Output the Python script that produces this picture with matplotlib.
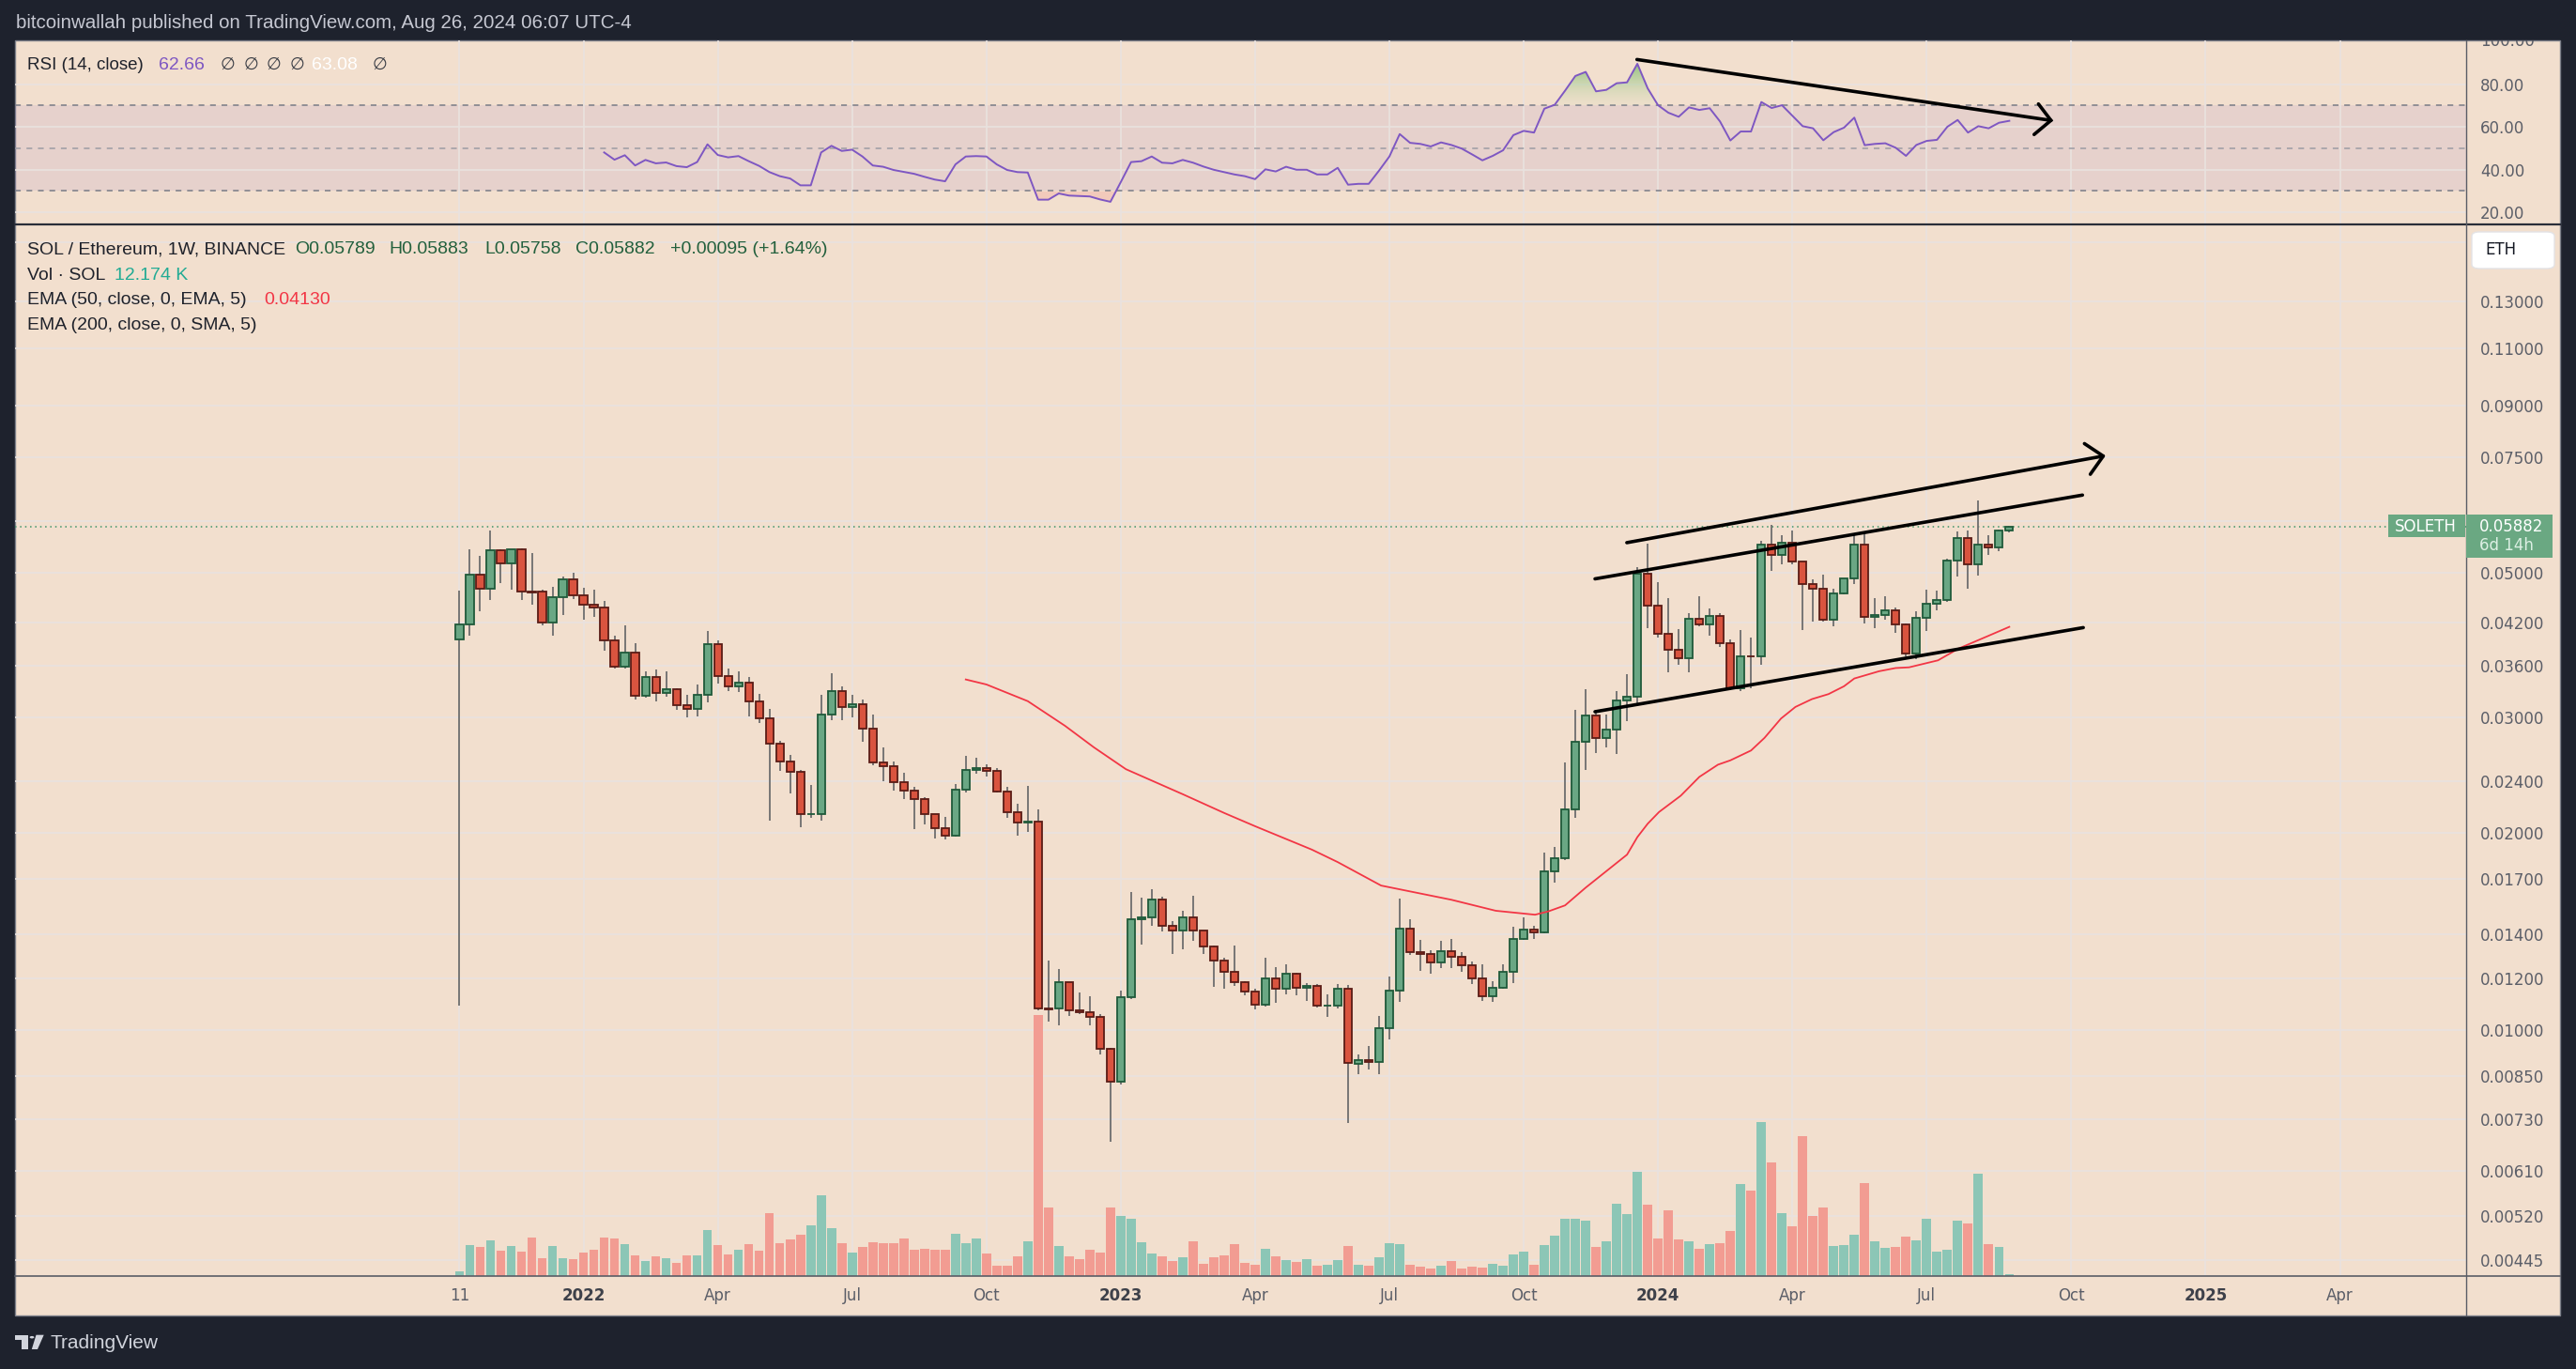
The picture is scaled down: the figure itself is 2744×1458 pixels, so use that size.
import numpy as np
import pandas as pd
import matplotlib
matplotlib.use('Agg')
import matplotlib.pyplot as plt
from matplotlib.patches import Rectangle, FancyBboxPatch, Polygon, Circle
from matplotlib.lines import Line2D
from matplotlib.colors import LinearSegmentedColormap
from matplotlib.path import Path
from matplotlib.ticker import NullLocator

# ---- data (SOL/ETH weekly, Binance) ----
start = pd.Timestamp('2021-10-11')   # first weekly bar

opens = [0.03948, 0.04162, 0.04958, 0.04718, 0.05401, 0.05159, 0.05419, 0.04672, 0.04680, 0.04190,
         0.04589, 0.04876, 0.04611, 0.04461, 0.04416, 0.03935, 0.03587, 0.03769, 0.03238, 0.03459,
         0.03269, 0.03314, 0.03132, 0.03092, 0.03249, 0.03883, 0.03470, 0.03347, 0.03390, 0.03174,
         0.02991, 0.02736, 0.02570, 0.02478, 0.02135, 0.02135, 0.03031, 0.03291, 0.03112, 0.03143,
         0.02884, 0.02561, 0.02528, 0.02390, 0.02319, 0.02251, 0.02135, 0.02032, 0.01980, 0.02327,
         0.02495, 0.02511, 0.02486, 0.02312, 0.02150, 0.02073, 0.02080, 0.01077, 0.01077, 0.01182,
         0.01070, 0.01063, 0.01047, 0.00935, 0.00834, 0.01121, 0.01475, 0.01485, 0.01581, 0.01441,
         0.01418, 0.01485, 0.01418, 0.01340, 0.01276, 0.01226, 0.01182, 0.01144, 0.01092, 0.01198,
         0.01155, 0.01218, 0.01159, 0.01167, 0.01088, 0.01090, 0.01155, 0.00888, 0.00899, 0.00893,
         0.01005, 0.01148, 0.01427, 0.01314, 0.01305, 0.01267, 0.01319, 0.01293, 0.01255, 0.01198,
         0.01125, 0.01159, 0.01226, 0.01376, 0.01422, 0.01409, 0.01746, 0.01828, 0.02171, 0.02752,
         0.03028, 0.02793, 0.02875, 0.03186, 0.03225, 0.04978, 0.04450, 0.04025, 0.03806, 0.03703,
         0.04247, 0.04166, 0.04288, 0.03897, 0.03323, 0.03728, 0.03726, 0.05523, 0.05316, 0.05545,
         0.05193, 0.04797, 0.04718, 0.04236, 0.04642, 0.04890, 0.05523, 0.04271, 0.04312, 0.04371,
         0.04172, 0.03760, 0.04258, 0.04486, 0.04546, 0.05208, 0.05653, 0.05139, 0.05523, 0.05455,
         0.05789]
closes = [0.04162, 0.04958, 0.04718, 0.05401, 0.05159, 0.05419, 0.04672, 0.04667, 0.04190, 0.04589,
          0.04876, 0.04611, 0.04461, 0.04416, 0.03935, 0.03587, 0.03769, 0.03238, 0.03459, 0.03269,
          0.03314, 0.03132, 0.03092, 0.03249, 0.03883, 0.03470, 0.03347, 0.03390, 0.03174, 0.02991,
          0.02736, 0.02570, 0.02478, 0.02135, 0.02140, 0.03031, 0.03291, 0.03112, 0.03143, 0.02884,
          0.02561, 0.02528, 0.02390, 0.02319, 0.02251, 0.02135, 0.02032, 0.01980, 0.02327, 0.02495,
          0.02511, 0.02486, 0.02312, 0.02150, 0.02073, 0.02080, 0.01077, 0.01076, 0.01182, 0.01070,
          0.01063, 0.01047, 0.00935, 0.00834, 0.01121, 0.01475, 0.01485, 0.01581, 0.01441, 0.01418,
          0.01485, 0.01418, 0.01340, 0.01276, 0.01226, 0.01182, 0.01144, 0.01092, 0.01198, 0.01155,
          0.01218, 0.01159, 0.01167, 0.01088, 0.01090, 0.01155, 0.00891, 0.00899, 0.00893, 0.01005,
          0.01148, 0.01427, 0.01314, 0.01305, 0.01267, 0.01319, 0.01293, 0.01255, 0.01198, 0.01125,
          0.01159, 0.01226, 0.01376, 0.01422, 0.01409, 0.01746, 0.01828, 0.02171, 0.02752, 0.03028,
          0.02793, 0.02875, 0.03186, 0.03225, 0.04978, 0.04450, 0.04025, 0.03806, 0.03703, 0.04247,
          0.04166, 0.04288, 0.03897, 0.03323, 0.03728, 0.03726, 0.05523, 0.05316, 0.05545, 0.05193,
          0.04797, 0.04718, 0.04236, 0.04642, 0.04890, 0.05523, 0.04271, 0.04312, 0.04371, 0.04172,
          0.03760, 0.04258, 0.04486, 0.04546, 0.05208, 0.05653, 0.05139, 0.05523, 0.05455, 0.05789,
          0.05882]
highs = [0.04686, 0.05425, 0.05302, 0.05796, 0.05425, 0.05430, 0.05449, 0.05352, 0.04700, 0.04749,
         0.04930, 0.04991, 0.04738, 0.04706, 0.04525, 0.04003, 0.04152, 0.03900, 0.03532, 0.03555,
         0.03532, 0.03324, 0.03252, 0.03372, 0.04071, 0.03939, 0.03567, 0.03532, 0.03463, 0.03263,
         0.03094, 0.02766, 0.02632, 0.02494, 0.02368, 0.03252, 0.03509, 0.03350, 0.03252, 0.03198,
         0.03034, 0.02702, 0.02573, 0.02472, 0.02352, 0.02266, 0.02138, 0.02115, 0.02373, 0.02623,
         0.02606, 0.02544, 0.02511, 0.02350, 0.02214, 0.02362, 0.02174, 0.01276, 0.01240, 0.01185,
         0.01141, 0.01126, 0.01058, 0.00938, 0.01149, 0.01625, 0.01593, 0.01641, 0.01598, 0.01466,
         0.01521, 0.01604, 0.01420, 0.01346, 0.01289, 0.01346, 0.01188, 0.01155, 0.01289, 0.01247,
         0.01259, 0.01222, 0.01178, 0.01174, 0.01134, 0.01174, 0.01171, 0.00917, 0.00945, 0.01050,
         0.01206, 0.01586, 0.01475, 0.01373, 0.01323, 0.01367, 0.01378, 0.01314, 0.01272, 0.01259,
         0.01186, 0.01259, 0.01437, 0.01487, 0.01441, 0.01866, 0.01903, 0.02563, 0.03082, 0.03319,
         0.03082, 0.03032, 0.03291, 0.03496, 0.05103, 0.05538, 0.04831, 0.04573, 0.04098, 0.04329,
         0.04597, 0.04412, 0.04329, 0.03949, 0.04082, 0.03976, 0.05590, 0.05907, 0.05693, 0.05794,
         0.05200, 0.04880, 0.04967, 0.04730, 0.04900, 0.05693, 0.05774, 0.04573, 0.04597, 0.04418,
         0.04175, 0.04359, 0.04700, 0.04686, 0.05258, 0.05774, 0.05794, 0.06442, 0.05707, 0.05812,
         0.05883]
lows = [0.01089, 0.04007, 0.04368, 0.04543, 0.04823, 0.04711, 0.04543, 0.04470, 0.04152, 0.04007,
        0.04306, 0.04558, 0.04236, 0.04281, 0.03802, 0.03571, 0.03571, 0.03202, 0.03217, 0.03181,
        0.03234, 0.03088, 0.03007, 0.03017, 0.03170, 0.03386, 0.03297, 0.03279, 0.03017, 0.02948,
        0.02091, 0.02489, 0.02301, 0.02043, 0.02112, 0.02091, 0.02977, 0.02977, 0.03007, 0.02760,
        0.02536, 0.02402, 0.02322, 0.02256, 0.02030, 0.02064, 0.01964, 0.01958, 0.01975, 0.02306,
        0.02462, 0.02438, 0.02304, 0.02112, 0.01984, 0.02004, 0.01073, 0.01031, 0.01015, 0.01052,
        0.01058, 0.01018, 0.00916, 0.00674, 0.00825, 0.01114, 0.01351, 0.01443, 0.01416, 0.01308,
        0.01330, 0.01370, 0.01308, 0.01165, 0.01158, 0.01169, 0.01129, 0.01076, 0.01085, 0.01101,
        0.01135, 0.01128, 0.01109, 0.01081, 0.01046, 0.01077, 0.00720, 0.00855, 0.00870, 0.00857,
        0.00968, 0.01105, 0.01301, 0.01233, 0.01218, 0.01245, 0.01245, 0.01226, 0.01177, 0.01109,
        0.01105, 0.01155, 0.01178, 0.01372, 0.01377, 0.01405, 0.01678, 0.01815, 0.02106, 0.02493,
        0.02651, 0.02698, 0.02643, 0.02969, 0.03158, 0.04109, 0.03972, 0.03525, 0.03609, 0.03525,
        0.04145, 0.04003, 0.03842, 0.03304, 0.03291, 0.03323, 0.03609, 0.05032, 0.05152, 0.05152,
        0.04087, 0.04213, 0.04213, 0.04138, 0.04635, 0.04802, 0.04183, 0.04116, 0.04241, 0.04042,
        0.03724, 0.03688, 0.04070, 0.04377, 0.04510, 0.04930, 0.04730, 0.04950, 0.05316, 0.05385,
        0.05758]
# volume, thousands of SOL
volumes = [30, 198, 186, 228, 162, 192, 156, 246, 114, 192,
           114, 108, 150, 168, 246, 240, 204, 132, 96, 126,
           114, 84, 132, 132, 294, 198, 138, 168, 204, 162,
           402, 210, 234, 264, 324, 516, 306, 210, 150, 186,
           216, 210, 210, 240, 168, 174, 168, 168, 270, 210,
           240, 144, 66, 66, 126, 222, 1668, 438, 192, 126,
           108, 168, 150, 438, 384, 366, 216, 144, 126, 96,
           120, 222, 78, 120, 132, 204, 84, 72, 174, 126,
           102, 90, 108, 66, 72, 102, 192, 72, 66, 120,
           210, 204, 72, 60, 48, 66, 96, 48, 60, 54,
           78, 66, 138, 156, 72, 198, 258, 366, 366, 354,
           186, 222, 462, 396, 666, 456, 240, 420, 234, 222,
           174, 204, 210, 288, 588, 546, 984, 726, 402, 318,
           894, 384, 438, 192, 198, 264, 594, 222, 180, 186,
           252, 228, 366, 156, 168, 354, 336, 654, 204, 186,
           12.174]

# RSI(14) from bar 14 onwards
rsi_first = 14
rsi_vals = [48.0, 44.6, 46.7, 41.9, 44.5, 42.9, 43.3, 41.6, 41.1, 43.5,
            51.8, 46.8, 45.7, 46.3, 43.9, 41.7, 38.8, 36.9, 35.8, 32.6,
            32.6, 48.0, 51.1, 48.7, 49.3, 46.1, 41.9, 41.3, 39.8, 38.9,
            38.0, 36.6, 35.3, 34.5, 42.4, 46.1, 46.3, 46.1, 42.4, 39.8,
            38.8, 38.6, 25.9, 25.9, 28.8, 27.8, 27.6, 27.4, 26.0, 24.9,
            34.1, 43.5, 43.9, 46.1, 43.2, 42.9, 44.5, 43.2, 41.4, 39.9,
            38.8, 37.7, 36.9, 35.5, 40.1, 39.1, 41.3, 39.9, 39.9, 37.7,
            37.7, 40.8, 32.9, 33.3, 33.3, 39.5, 46.1, 56.6, 52.5, 52.0,
            50.8, 52.7, 51.5, 49.8, 47.1, 44.3, 46.4, 49.0, 56.1, 58.1,
            57.3, 68.5, 70.3, 76.9, 83.8, 85.7, 76.6, 77.3, 80.4, 80.8,
            89.5, 78.0, 70.1, 66.6, 64.7, 69.1, 67.9, 68.7, 62.5, 53.6,
            57.8, 57.8, 71.6, 68.8, 70.1, 65.2, 60.3, 59.3, 53.7, 57.5,
            59.6, 64.3, 51.4, 52.0, 52.3, 50.2, 46.4, 51.5, 53.4, 53.9,
            60.0, 63.2, 57.3, 60.3, 59.3, 61.9, 62.8]

# EMA 50 sampled along the drawn line (week index, value)
ema_weeks = [49, 51, 55, 58.6, 61.4, 64.5, 70, 74, 77, 82.5, 85, 89.2, 96, 100.3, 104.1, 105.4,
             107, 109, 113, 114, 115, 116.1, 118.2, 120, 121.8, 123, 125, 126.3, 127.9, 129.3,
             130.9, 132.5, 134, 135, 137.4, 139, 140.3, 143.1, 145.1, 148, 150]
ema_vals = [0.03432, 0.03372, 0.03180, 0.02916, 0.02703, 0.02503, 0.02292, 0.02146, 0.02048, 0.01886,
            0.01805, 0.01662, 0.01581, 0.01521, 0.01500, 0.01518, 0.01550, 0.01650, 0.01853, 0.01971,
            0.02066, 0.02153, 0.02280, 0.02436, 0.02543, 0.02582, 0.02673, 0.02794, 0.02991, 0.03116,
            0.03203, 0.03260, 0.03351, 0.03444, 0.03533, 0.03573, 0.03582, 0.03671, 0.03827, 0.04003,
            0.04130]

# hand-drawn trend lines (week index, value)
channel_top = [(109.9, 0.04890), (157.08, 0.06566)]
channel_bottom = [(109.9, 0.03064), (157.16, 0.04119)]
arrow_up = [(112.98, 0.05554), (159.09, 0.07532)]
arrow_up_head = [(157.27, 0.07870), (159.09, 0.07532), (157.84, 0.07065)]
rsi_arrow = [(113.96, 91.5), (154.03, 63.0)]
rsi_arrow_head = [(152.82, 70.7), (154.03, 63.0), (152.4, 56.4)]

tick_dates = ['2021-10-11', '2022-01-03', '2022-04-04', '2022-07-04', '2022-10-03', '2023-01-02',
              '2023-04-03', '2023-07-03', '2023-10-02', '2024-01-01', '2024-04-01', '2024-07-01',
              '2024-10-07', '2025-01-06', '2025-04-07']
tick_labels = ['11', '2022', 'Apr', 'Jul', 'Oct', '2023', 'Apr', 'Jul', 'Oct', '2024', 'Apr', 'Jul',
               'Oct', '2025', 'Apr']
price_ticks = [0.16, 0.13, 0.11, 0.09, 0.075, 0.06, 0.05, 0.042, 0.036, 0.03, 0.024, 0.02, 0.017,
               0.014, 0.012, 0.01, 0.0085, 0.0073, 0.0061, 0.0052, 0.00445]
hidden_price_labels = [0.16, 0.06]
last_price = 0.05882

# ---- colours ----
DARK = '#1e222d'
BG = '#f2dfce'
GRID = '#e9e2df'
UP, UP_EDGE = '#6aa784', '#1f5a3a'
DN, DN_EDGE = '#d9543f', '#5a1c16'
WICK = '#6e6e6e'
VOL_UP, VOL_DN = '#8cc6b6', '#f29c92'
AXTXT = '#5b5e68'

W, H = 2744, 1458
def fx(px): return px / W
def fy(py): return 1 - py / H
def rect(x0, y0, x1, y1): return [fx(x0), fy(y1), (x1 - x0) / W, (y1 - y0) / H]

fig = plt.figure(figsize=(W / 100, H / 100), dpi=100, facecolor=DARK)
fig.add_artist(Rectangle((fx(16), fy(1401)), (2727 - 16) / W, (1401 - 43) / H,
                         transform=fig.transFigure, facecolor=BG, edgecolor='#7d808a', lw=1, zorder=0))

x = np.arange(len(closes))
o, c, h, l = map(np.array, (opens, closes, highs, lows))
up = c >= o
xlim = (-43.02, 194.19)
tick_pos = [(pd.Timestamp(d) - start).days / 7 for d in tick_dates]

# ---- RSI pane ----
ax_rsi = fig.add_axes(rect(16, 43, 2626.7, 239))
ax_rsi.set_facecolor('none')
ax_rsi.set_zorder(2)
ax_rsi.set_xlim(xlim)
ax_rsi.set_ylim(14.31, 100.46)
ax_rsi.axhspan(30, 70, color='#7e57c2', alpha=0.1, lw=0, zorder=0.5)
ax_rsi.set_xticks(tick_pos)
ax_rsi.set_yticks([20, 40, 60, 80])
ax_rsi.set_yticklabels(['20.00', '40.00', '60.00', '80.00'])
ax_rsi.grid(True, color=GRID, lw=1.2, zorder=0)
ax_rsi.set_axisbelow(True)
ax_rsi.tick_params(axis='x', length=0, labelbottom=False)
ax_rsi.yaxis.tick_right()
ax_rsi.tick_params(axis='y', length=0, pad=11, labelsize=12, labelcolor=AXTXT)
for s in ax_rsi.spines.values():
    s.set_visible(False)
ax_rsi.axhline(70, color='#787b86', ls=(0, (4, 4)), lw=1.1, zorder=1)
ax_rsi.axhline(50, color='#9c9ca4', ls=(0, (4, 4)), lw=1.1, zorder=1)
ax_rsi.axhline(30, color='#787b86', ls=(0, (4, 4)), lw=1.1, zorder=1)

rx = np.arange(rsi_first, rsi_first + len(rsi_vals))
rv = np.array(rsi_vals)
fb = ax_rsi.fill_between(rx, rv, 70, where=rv > 70, interpolate=True, facecolor='none', edgecolor='none')
paths = fb.get_paths()
if paths:
    grad = np.linspace(0, 1, 256).reshape(-1, 1)
    cmap = LinearSegmentedColormap.from_list('g', [(0.83, 0.87, 0.72, 0.15), (0.50, 0.74, 0.44, 0.95)])
    img = ax_rsi.imshow(grad, extent=[xlim[0], xlim[1], 70, 91], origin='lower', cmap=cmap,
                        aspect='auto', zorder=1.5, interpolation='bilinear')
    img.set_clip_path(Path.make_compound_path(*paths), transform=ax_rsi.transData)
ax_rsi.fill_between(rx, rv, 30, where=rv < 30, interpolate=True, color='#f4a49a', alpha=0.35, lw=0, zorder=1.5)
ax_rsi.plot(rx, rv, color='#7e57c2', lw=1.4, zorder=3)
ax_rsi.set_xlim(xlim)
ax_rsi.set_ylim(14.31, 100.46)
ax_rsi.plot([p[0] for p in rsi_arrow], [p[1] for p in rsi_arrow], color='black', lw=2.6,
            solid_capstyle='round', zorder=4)
ax_rsi.plot([p[0] for p in rsi_arrow_head], [p[1] for p in rsi_arrow_head], color='black', lw=2.6,
            solid_capstyle='round', solid_joinstyle='miter', zorder=4)

# clipped "100.00" label at the top of the RSI scale
ax_rs = fig.add_axes(rect(2626.7, 43, 2727, 239))
ax_rs.set_xlim(0, 1)
ax_rs.set_ylim(14.31, 100.46)
ax_rs.axis('off')
ax_rs.text(0.15, 100, '100.00', va='center', ha='left', fontsize=12, color=AXTXT, clip_on=True)

# ---- price pane ----
ax = fig.add_axes(rect(16, 239, 2626.7, 1358.7))
ax.set_facecolor('none')
ax.set_zorder(2)
ax.set_yscale('log')
ax.set_xlim(xlim)
ax.set_ylim(0.004211, 0.17018)
ax.set_yticks(price_ticks)
ax.set_yticklabels(['' if v in hidden_price_labels else f'{v:.5f}' for v in price_ticks])
ax.yaxis.set_minor_locator(NullLocator())
ax.yaxis.tick_right()
ax.tick_params(axis='y', length=0, pad=11, labelsize=12, labelcolor=AXTXT)
ax.set_xticks(tick_pos)
ax.set_xticklabels(tick_labels)
ax.tick_params(axis='x', length=0, pad=9, labelsize=12, labelcolor=AXTXT)
for t, lab in zip(ax.get_xticklabels(), tick_labels):
    if lab.isdigit() and len(lab) == 4:
        t.set_fontweight('bold')
        t.set_color('#3e414a')
ax.grid(True, color=GRID, lw=1.2, zorder=0)
ax.set_axisbelow(True)
for s in ax.spines.values():
    s.set_visible(False)

ax.axhline(last_price, color='#3f9468', ls=(0, (1, 2.5)), lw=1.1, zorder=1)

ax.vlines(x, l, h, color=WICK, lw=1.3, zorder=2)
bot = np.minimum(o, c)
top = np.maximum(o, c)
ax.bar(x[up], (top - bot)[up], bottom=bot[up], width=0.74, color=UP, edgecolor=UP_EDGE, lw=1.3, zorder=3)
ax.bar(x[~up], (top - bot)[~up], bottom=bot[~up], width=0.74, color=DN, edgecolor=DN_EDGE, lw=1.3, zorder=3)

ax.plot(ema_weeks, ema_vals, color='#f23645', lw=1.3, zorder=4)

for seg in (channel_top, channel_bottom, arrow_up):
    ax.plot([p[0] for p in seg], [p[1] for p in seg], color='black', lw=2.6, solid_capstyle='round', zorder=5)
ax.plot([p[0] for p in arrow_up_head], [p[1] for p in arrow_up_head], color='black', lw=2.6,
        solid_capstyle='round', zorder=5)
ax.set_xlim(xlim)
ax.set_ylim(0.004211, 0.17018)

# ---- volume overlay ----
ax_vol = fig.add_axes(rect(16, 239, 2626.7, 1358.7))
ax_vol.set_facecolor('none')
ax_vol.set_zorder(3)
ax_vol.set_xlim(xlim)
ax_vol.set_ylim(0, 6718)
ax_vol.axis('off')
vol = np.array(volumes)
ax_vol.bar(x, vol, width=0.88, color=np.where(up, VOL_UP, VOL_DN), lw=0)

# ---- frame lines ----
def fline(x0, y0, x1, y1, color, lw):
    fig.add_artist(Line2D([fx(x0), fx(x1)], [fy(y0), fy(y1)], transform=fig.transFigure,
                          color=color, lw=lw, zorder=6))
fline(16, 239, 2727, 239, '#2a2e39', 1.6)
fline(2626.7, 43, 2626.7, 1401, '#5a5d66', 1.0)
fline(16, 1358.7, 2727, 1358.7, '#5a5d66', 1.2)

# ---- price badges ----
GREEN_BOX = '#6aa882'
fig.add_artist(Rectangle((fx(2544), fy(572.5)), (2626 - 2544) / W, (572.5 - 548) / H,
                         transform=fig.transFigure, facecolor=GREEN_BOX, edgecolor='none', zorder=7))
fig.add_artist(Rectangle((fx(2627), fy(594)), (2719 - 2627) / W, (594 - 548) / H,
                         transform=fig.transFigure, facecolor=GREEN_BOX, edgecolor='none', zorder=7))
fig.text(fx(2551), fy(560.5), 'SOLETH', color='white', fontsize=12, va='center', ha='left', zorder=8)
fig.text(fx(2641), fy(560.5), '0.05882', color='white', fontsize=12, va='center', ha='left', zorder=8)
fig.text(fx(2641), fy(581), '6d 14h', color='#dcefe3', fontsize=12, va='center', ha='left', zorder=8)

fig.add_artist(FancyBboxPatch((fx(2633), fy(286)), (2721 - 2633) / W, (286 - 247) / H,
                              boxstyle='round,pad=0,rounding_size=0.003', transform=fig.transFigure,
                              facecolor='white', edgecolor='#e3e3e6', lw=1, zorder=7))
fig.text(fx(2647), fy(266), 'ETH', color='#131722', fontsize=12, va='center', ha='left', zorder=8)

# ---- header / legends ----
TF = 'Liberation Sans'
fig.text(fx(17), fy(25), 'bitcoinwallah published on TradingView.com, Aug 26, 2024 06:07 UTC-4',
         color='#c6c8d2', fontsize=14.8, family=TF, va='center', ha='left')

def legend(px, py, s, color, family=TF, size=14):
    fig.text(fx(px), fy(py), s, color=color, fontsize=size, family=family, va='center', ha='left', zorder=8)

legend(29, 69, 'RSI (14, close)', '#1f222b', size=13.5)
legend(169, 69, '62.66', '#7e57c2')
for px in (235, 259.5, 284, 309):
    legend(px, 69, '∅', '#3a3d45', 'DejaVu Sans', 13)
legend(332, 69, '63.08', '#ffffff')
legend(397, 69, '∅', '#3a3d45', 'DejaVu Sans', 13)

OHLC_GREEN = '#23603d'
legend(29, 266, 'SOL / Ethereum, 1W, BINANCE', '#1f222b')
legend(314.6, 266, 'O0.05789', OHLC_GREEN)
legend(414.5, 266, 'H0.05883', OHLC_GREEN)
legend(516.6, 266, 'L0.05758', OHLC_GREEN)
legend(613, 266, 'C0.05882', OHLC_GREEN)
legend(713.5, 266, '+0.00095 (+1.64%)', OHLC_GREEN)
legend(29, 293, 'Vol · SOL', '#1f222b')
legend(122.3, 293, '12.174 K', '#22ab94')
legend(29, 319.5, 'EMA (50, close, 0, EMA, 5)', '#1f222b')
legend(281.3, 319.5, '0.04130', '#f23645')
legend(29, 346.5, 'EMA (200, close, 0, SMA, 5)', '#1f222b')

# ---- footer logo ----
LOGO = '#d1d4dc'
fig.add_artist(Polygon([(fx(16), fy(1421.7)), (fx(30), fy(1421.7)), (fx(30), fy(1437)),
                        (fx(23), fy(1437)), (fx(23), fy(1427)), (fx(16), fy(1427))],
                       closed=True, transform=fig.transFigure, facecolor=LOGO, edgecolor='none'))
fig.add_artist(Circle((fx(34), fy(1424.2)), 2.4 / W, transform=fig.transFigure, facecolor=LOGO,
                      edgecolor='none'))
fig.add_artist(Polygon([(fx(38.5), fy(1421.7)), (fx(46.7), fy(1421.7)), (fx(40), fy(1437)),
                        (fx(33.8), fy(1437))],
                       closed=True, transform=fig.transFigure, facecolor=LOGO, edgecolor='none'))
fig.text(fx(53.6), fy(1430), 'TradingView', color=LOGO, fontsize=15, family=TF, va='center', ha='left')

fig.savefig('out.png', dpi=100, facecolor=DARK)
